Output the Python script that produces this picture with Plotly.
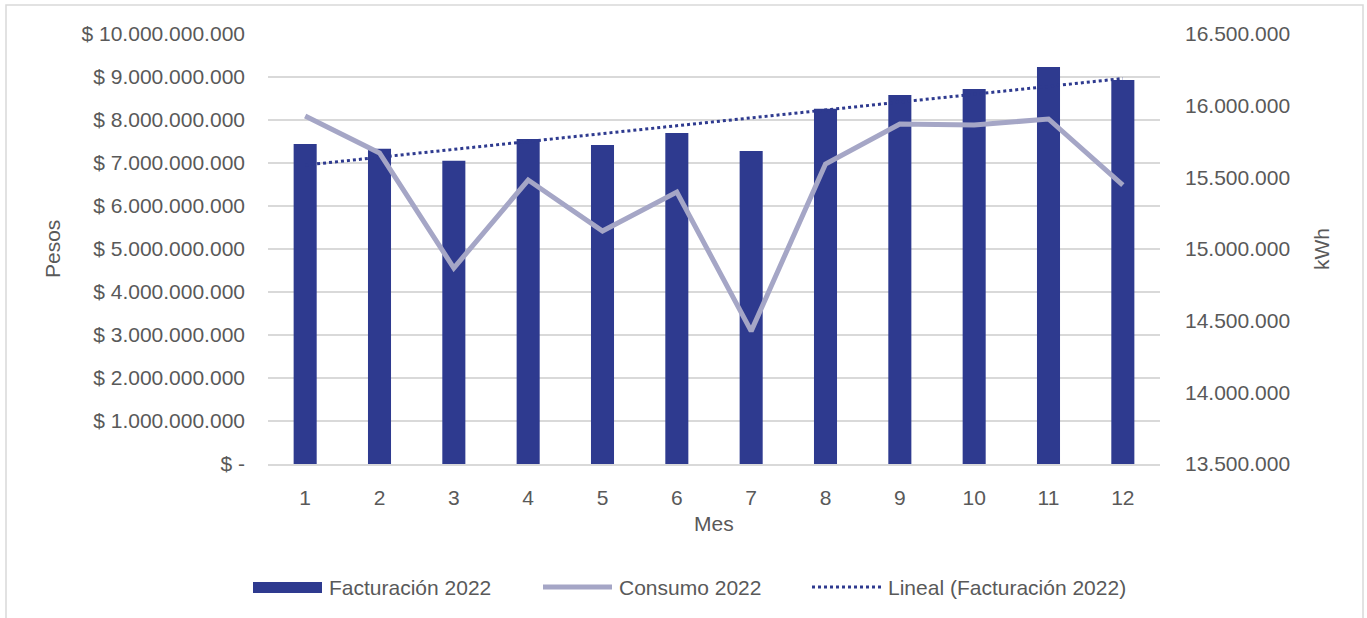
import numpy as np
import plotly.graph_objects as go

meses = [1, 2, 3, 4, 5, 6, 7, 8, 9, 10, 11, 12]
facturacion_2022 = [7.44e9, 7.33e9, 7.05e9, 7.56e9, 7.42e9, 7.70e9, 7.28e9, 8.26e9, 8.58e9, 8.72e9, 9.23e9, 8.93e9]
consumo_2022 = [15.928e6, 15.670e6, 14.867e6, 15.481e6, 15.125e6, 15.397e6, 14.427e6, 15.593e6, 15.872e6, 15.865e6, 15.907e6, 15.446e6]

left_tickvals = [0, 1e9, 2e9, 3e9, 4e9, 5e9, 6e9, 7e9, 8e9, 9e9, 10e9]
left_ticktext = ["$ -", "$ 1.000.000.000", "$ 2.000.000.000", "$ 3.000.000.000", "$ 4.000.000.000",
                 "$ 5.000.000.000", "$ 6.000.000.000", "$ 7.000.000.000", "$ 8.000.000.000",
                 "$ 9.000.000.000", "$ 10.000.000.000"]
right_tickvals = [13.5e6, 14.0e6, 14.5e6, 15.0e6, 15.5e6, 16.0e6, 16.5e6]
right_ticktext = ["13.500.000", "14.000.000", "14.500.000", "15.000.000", "15.500.000", "16.000.000", "16.500.000"]

BAR = "#2E3A8F"
LINE = "#A5A6C6"
TXT = "#595959"
GRID = "#D9D9D9"
FONT = "Liberation Sans, Arial, sans-serif"
FS = 21

# linear trend of Facturación (derived from the data)
coef = np.polyfit(meses, facturacion_2022, 1)
tendencia = list(np.polyval(coef, meses))

W, H = 1367, 618
L, R, T, B = 268, 1160, 34, 464
def px(x):
    return (x - L) / (R - L)
def py(y):
    return (B - y) / (B - T)

fig = go.Figure()
fig.add_trace(go.Bar(x=meses, y=facturacion_2022, name="Facturación 2022",
                     marker=dict(color=BAR, line=dict(width=0)), yaxis="y"))
fig.add_trace(go.Scatter(x=meses, y=tendencia, name="Lineal (Facturación 2022)", mode="lines",
                         line=dict(color=BAR, width=3, dash="dot"), yaxis="y"))
fig.add_trace(go.Scatter(x=meses, y=consumo_2022, name="Consumo 2022", mode="lines",
                         line=dict(color=LINE, width=5), yaxis="y2"))

shapes = []
annotations = []
# outer border
shapes.append(dict(type="rect", xref="paper", yref="paper", x0=px(6), x1=px(1363), y0=py(5), y1=py(640),
                   line=dict(color="#D9D9D9", width=1.5), fillcolor="rgba(0,0,0,0)", layer="below"))
# legend
shapes.append(dict(type="rect", xref="paper", yref="paper", x0=px(253), x1=px(322), y0=py(593), y1=py(582),
                   line=dict(width=0), fillcolor=BAR))
shapes.append(dict(type="line", xref="paper", yref="paper", x0=px(543), x1=px(612), y0=py(587), y1=py(587),
                   line=dict(color=LINE, width=5)))
shapes.append(dict(type="line", xref="paper", yref="paper", x0=px(812), x1=px(882), y0=py(587), y1=py(587),
                   line=dict(color=BAR, width=3, dash="dot")))
for xx, t in [(327, "Facturación 2022"), (617, "Consumo 2022"), (886, "Lineal (Facturación 2022)")]:
    annotations.append(dict(x=px(xx), y=py(587), xref="paper", yref="paper", text=t, showarrow=False,
                            xanchor="left", yanchor="middle", font=dict(size=FS, color=TXT, family=FONT)))
# axis titles
annotations.append(dict(x=px(52), y=py(249), xref="paper", yref="paper", text="Pesos", showarrow=False,
                        textangle=-90, xanchor="center", yanchor="middle", font=dict(size=FS, color=TXT, family=FONT)))
annotations.append(dict(x=px(1321), y=py(249), xref="paper", yref="paper", text="kWh", showarrow=False,
                        textangle=-90, xanchor="center", yanchor="middle", font=dict(size=FS, color=TXT, family=FONT)))
annotations.append(dict(x=px(714), y=py(523), xref="paper", yref="paper", text="Mes", showarrow=False,
                        xanchor="center", yanchor="middle", font=dict(size=FS, color=TXT, family=FONT)))

fig.update_layout(
    width=W, height=H,
    margin=dict(l=L, r=W - R, t=T, b=H - B, pad=0),
    paper_bgcolor="white", plot_bgcolor="white",
    font=dict(family=FONT, size=FS, color=TXT),
    showlegend=False,
    bargap=0.69,
    xaxis=dict(tickmode="array", tickvals=meses, ticktext=[str(m) for m in meses],
               range=[0.5, 12.5], showgrid=False, zeroline=False, showline=True,
               linecolor=GRID, linewidth=2, ticks="", ticklabelstandoff=14,
               tickfont=dict(size=FS, color=TXT)),
    yaxis=dict(range=[0, 10e9], tickmode="array", tickvals=left_tickvals, ticktext=left_ticktext,
               showgrid=True, gridcolor=GRID, gridwidth=1.5, zeroline=False, showline=False,
               ticks="", ticklabelstandoff=22, tickfont=dict(size=FS, color=TXT)),
    yaxis2=dict(range=[13.5e6, 16.5e6], overlaying="y", side="right", tickmode="array",
                tickvals=right_tickvals, ticktext=right_ticktext, showgrid=False, zeroline=False,
                showline=False, ticks="", ticklabelstandoff=24, tickfont=dict(size=FS, color=TXT)),
    shapes=shapes, annotations=annotations,
)

fig.write_html("out.html")
